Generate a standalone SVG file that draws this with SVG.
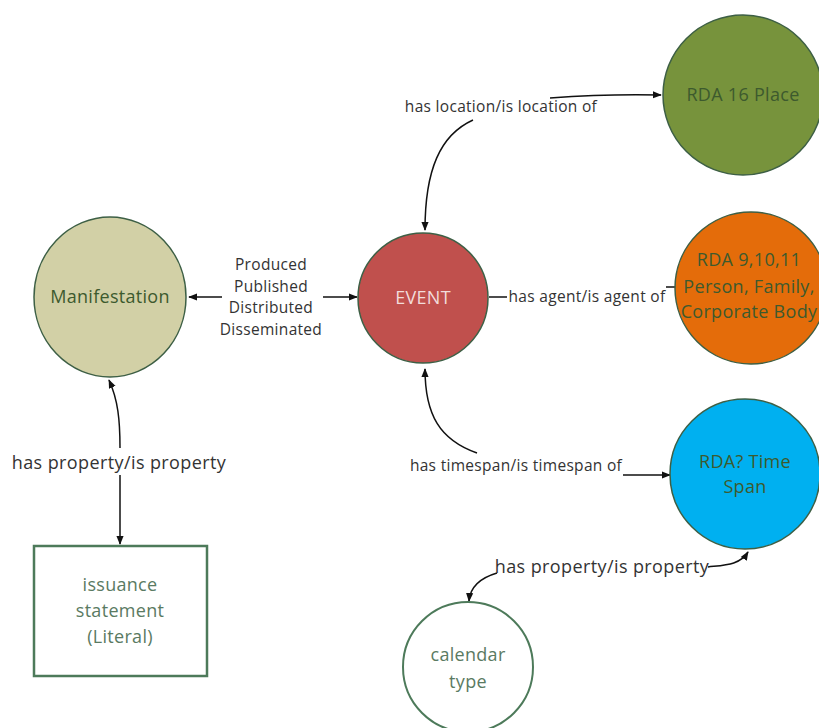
<svg xmlns="http://www.w3.org/2000/svg" width="819" height="728" viewBox="0 0 819 728">
<defs>
<marker id="arr" viewBox="0 0 10 10" refX="9" refY="5" markerWidth="9" markerHeight="9" markerUnits="userSpaceOnUse" orient="auto">
<path d="M0,1 L10,5 L0,9 z" fill="#111"/>
</marker>
<style>
.node{stroke:#3d5f45;stroke-width:1.5}
.nt{font-family:"Open Sans","Liberation Sans",sans-serif;font-size:18px;letter-spacing:0.3px;fill:#3d5a2e;text-anchor:middle}
.lbl{font-family:"Open Sans","Liberation Sans",sans-serif;font-size:15.5px;letter-spacing:0.3px;fill:#333;text-anchor:middle}
.lbl2{font-family:"Open Sans","Liberation Sans",sans-serif;font-size:18px;letter-spacing:0.4px;fill:#333;text-anchor:middle}
.c{fill:none;stroke:#111;stroke-width:1.5}
</style>
</defs>
<rect width="819" height="728" fill="#fff"/>
<g id="connectors">
<path class="c" d="M222,297 H189" marker-end="url(#arr)"/>
<path class="c" d="M323,297 H357" marker-end="url(#arr)"/>
<path class="c" d="M473,120 C440,135 425,170 425,230" marker-end="url(#arr)"/>
<path class="c" d="M550,98 C590,95 620,94 661,95" marker-end="url(#arr)"/>
<path class="c" d="M489,297 H507"/>
<path class="c" d="M666,287 H676"/>
<path class="c" d="M477,453 C440,440 425,415 425,369" marker-end="url(#arr)"/>
<path class="c" d="M623,475 H670" marker-end="url(#arr)"/>
<path class="c" d="M708,567 C725,565 740,565 748,552" marker-end="url(#arr)"/>
<path class="c" d="M497,573 C480,578 470,588 469,601" marker-end="url(#arr)"/>
<path class="c" d="M120,448 C120,420 118,400 109,380" marker-end="url(#arr)"/>
<path class="c" d="M120,475 V544" marker-end="url(#arr)"/>
<text class="lbl"><tspan x="271" y="270">Produced</tspan><tspan x="271" y="292">Published</tspan><tspan x="271" y="313">Distributed</tspan><tspan x="271" y="335">Disseminated</tspan></text>
<text class="lbl" x="501" y="112">has location/is location of</text>
<text class="lbl" x="587" y="302">has agent/is agent of</text>
<text class="lbl" x="516" y="471">has timespan/is timespan of</text>
<text class="lbl2" x="602" y="573">has property/is property</text>
<text class="lbl2" x="119" y="469">has property/is property</text>
</g>
<g id="manifestation">
<ellipse class="node" cx="110" cy="297" rx="76" ry="80" fill="#d2d0a6"/>
<text class="nt" x="110" y="303">Manifestation</text>
</g>
<g id="event">
<circle class="node" cx="423" cy="298" r="65" fill="#c0504d"/>
<text class="nt" x="423" y="304" style="fill:#f2dcdb">EVENT</text>
</g>
<g id="place">
<circle class="node" cx="743" cy="95" r="80" fill="#77933c"/>
<text class="nt" x="743" y="101">RDA 16 Place</text>
</g>
<g id="agent">
<circle class="node" cx="751" cy="288" r="76" fill="#e46c0a"/>
<text class="nt"><tspan x="749" y="266">RDA 9,10,11</tspan><tspan x="749" y="293">Person, Family,</tspan><tspan x="749" y="318">Corporate Body</tspan></text>
</g>
<g id="timespan">
<circle class="node" cx="745" cy="474" r="75" fill="#00b0f0"/>
<text class="nt"><tspan x="745" y="468">RDA? Time</tspan><tspan x="745" y="493">Span</tspan></text>
</g>
<g id="issuance">
<rect x="34" y="546" width="173" height="130" fill="#fff" stroke="#4d7a5a" stroke-width="2.5"/>
<text class="nt" style="fill:#5a7a62"><tspan x="120" y="591">issuance</tspan><tspan x="120" y="617">statement</tspan><tspan x="120" y="643">(Literal)</tspan></text>
</g>
<g id="calendar">
<circle cx="468" cy="667" r="65" fill="#fff" stroke="#4d7a5a" stroke-width="2"/>
<text class="nt" style="fill:#5a7a62"><tspan x="468" y="661">calendar</tspan><tspan x="468" y="688">type</tspan></text>
</g>
</svg>
